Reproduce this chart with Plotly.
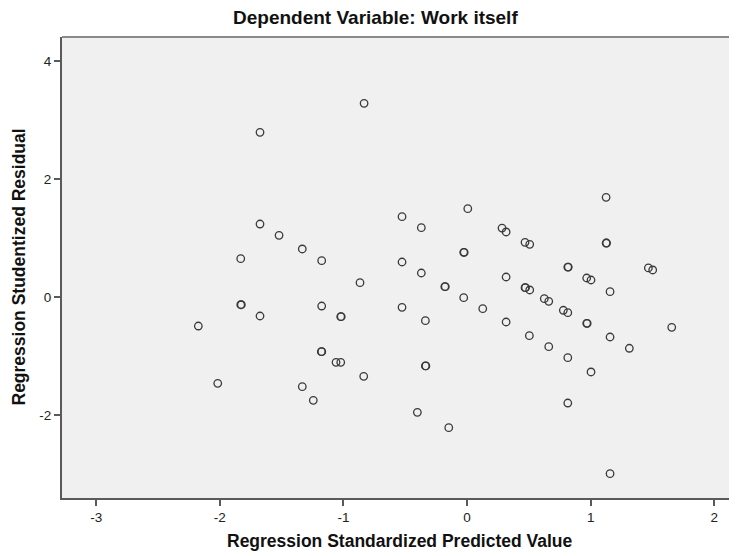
import plotly.graph_objects as go

# Regression standardized predicted value (x) vs studentized residual (y)
pred = [-0.833, -1.675, -1.675, -1.521, -1.333, -1.176, -1.831, -0.866,
        -1.831, -1.826, -1.675, -1.176, -1.022, -1.018, -2.174, -2.017,
        -1.179, -1.175, -1.060, -1.022, -0.836, -1.333, -1.244,
        -0.526, -0.370, 0.006, 0.283, 0.316, 0.469, 0.507, 1.125,
        1.125, 1.129, -0.027, -0.023, -0.526, -0.370, -0.180, -0.176,
        0.815, 0.819, 0.968, 1.003, 1.467, 1.502, 0.316, 0.469, 0.473,
        0.507, 1.157, -0.027, 0.127, 0.625, 0.661, 0.779, 0.815,
        -0.526, -0.337, 0.316, 0.968, 0.972, 1.656, 0.504, 1.157,
        0.661, 1.313, 0.815, -0.337, -0.333, 1.003, 0.815, -0.402,
        -0.148, 1.157]
resid = [3.283, 2.792, 1.237, 1.046, 0.814, 0.615, 0.649, 0.242,
         -0.131, -0.131, -0.322, -0.153, -0.334, -0.334, -0.492, -1.463,
         -0.927, -0.927, -1.107, -1.107, -1.344, -1.520, -1.751,
         1.361, 1.175, 1.497, 1.169, 1.102, 0.927, 0.893, 1.690,
         0.915, 0.915, 0.758, 0.758, 0.593, 0.407, 0.175, 0.175,
         0.508, 0.508, 0.322, 0.288, 0.492, 0.458, 0.339, 0.158, 0.158,
         0.119, 0.090, -0.012, -0.198, -0.029, -0.073, -0.225, -0.266,
         -0.175, -0.402, -0.424, -0.446, -0.446, -0.514, -0.656, -0.678,
         -0.842, -0.869, -1.029, -1.169, -1.169, -1.271, -1.797, -1.954,
         -2.215, -2.995]

x_ticks = [-3, -2, -1, 0, 1, 2]
y_ticks = [-2, 0, 2, 4]

title_text = "Dependent Variable: Work itself"
x_title = "Regression Standardized Predicted Value"
y_title = "Regression Studentized Residual"

axis_color = "#5a5a5a"
font_family = "Liberation Sans, Arial, sans-serif"

fig = go.Figure()
fig.add_trace(go.Scatter(
    x=pred, y=resid, mode="markers",
    marker=dict(symbol="circle-open", size=7.5, color="#3a3a3a",
                line=dict(width=1.3, color="#3a3a3a")),
    hoverinfo="x+y", showlegend=False,
))

# page body has an 8px margin, so the figure is shifted by (8, 8)
fig.update_layout(
    width=729, height=548,
    margin=dict(l=54, r=0, t=29, b=58),
    paper_bgcolor="white",
    plot_bgcolor="#f0f0f0",
    font=dict(family=font_family, size=13, color="#111"),
    xaxis=dict(
        range=[-3.277, 2.184], tickvals=x_ticks, ticktext=[str(v) for v in x_ticks],
        showgrid=False, zeroline=False, showline=True, linecolor=axis_color,
        linewidth=2, ticks="outside", ticklen=6, tickwidth=1.5,
        tickcolor=axis_color, tickfont=dict(size=13.5, color="#222"),
    ),
    yaxis=dict(
        range=[-3.407, 4.407], tickvals=y_ticks, ticktext=[str(v) for v in y_ticks],
        showgrid=False, zeroline=False, showline=True, linecolor=axis_color,
        linewidth=2, ticks="outside", ticklen=6, tickwidth=1.5,
        tickcolor=axis_color, tickfont=dict(size=13.5, color="#222"),
    ),
    shapes=[dict(type="line", xref="paper", yref="paper", x0=0, x1=1, y0=1, y1=1,
                 line=dict(color="#8a8a8a", width=2))],
    annotations=[
        dict(text="<b>" + title_text + "</b>", xref="paper", yref="paper",
             x=(375 - 62) / 675, y=1, yshift=20, showarrow=False,
             font=dict(size=19, color="#111"), xanchor="center", yanchor="middle"),
        dict(text="<b>" + x_title + "</b>", xref="paper", yref="paper",
             x=0.5, y=0, yshift=-43, showarrow=False,
             font=dict(size=17.5, color="#111"), xanchor="center", yanchor="middle"),
        dict(text="<b>" + y_title + "</b>", xref="paper", yref="paper",
             x=0, y=0.5, xshift=-44, textangle=-90, showarrow=False,
             font=dict(size=17.5, color="#111"), xanchor="center", yanchor="middle"),
    ],
)

fig.write_html("out.html")
